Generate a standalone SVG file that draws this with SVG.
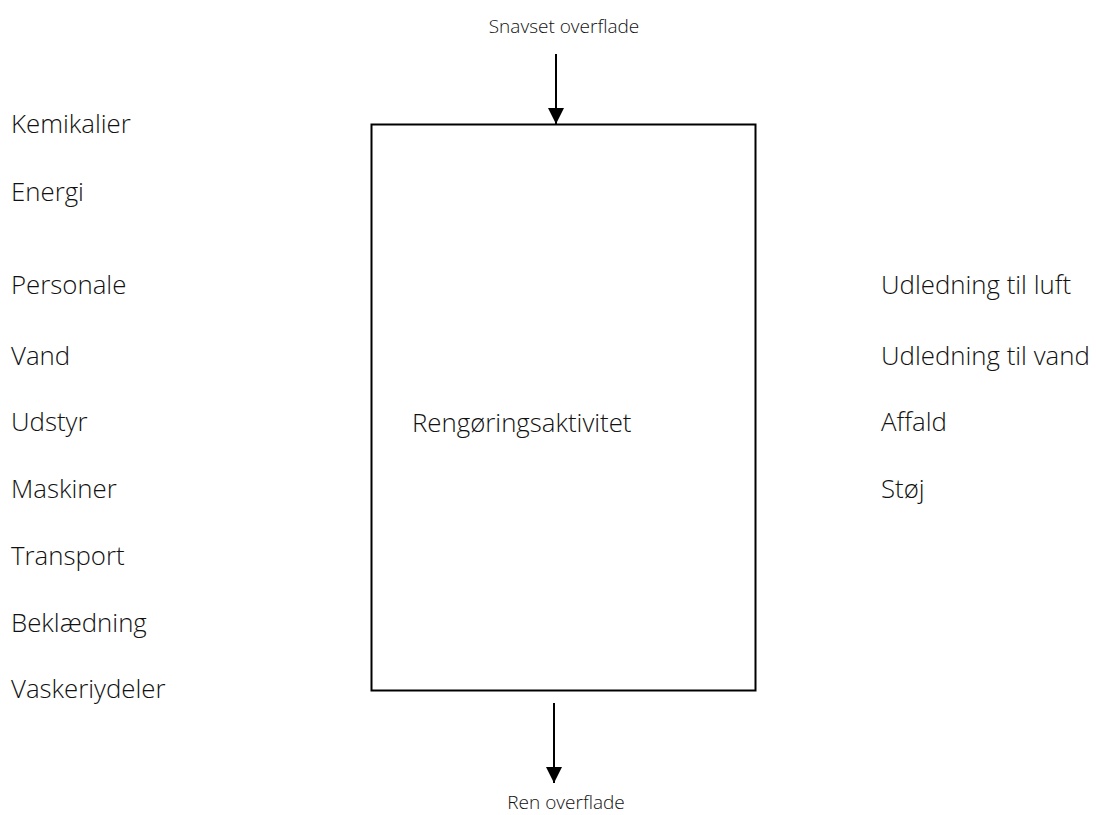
<svg xmlns="http://www.w3.org/2000/svg" width="1096" height="815" viewBox="0 0 1096 815">
<style>
text{font-family:"Open Sans","Liberation Sans",sans-serif;fill:#111;font-weight:300}
.l{font-size:25.8px}
.s{font-size:19px}
.c{stroke:#000;stroke-width:2;fill:none}
</style>
<defs>
<marker id="a" viewBox="0 0 16 16" refX="16" refY="8" markerWidth="16" markerHeight="16" markerUnits="userSpaceOnUse" orient="auto">
<path d="M0,0L16,8L0,16z" fill="#000"/>
</marker>
</defs>
<rect width="1096" height="815" fill="#fff"/>
<g id="process">
<rect x="371.5" y="124.5" width="384" height="566" fill="#fff" stroke="#000" stroke-width="2"/>
<text class="l" x="412" y="432">Rengøringsaktivitet</text>
</g>
<g id="inputs">
<text class="l" x="11" y="133">Kemikalier</text>
<text class="l" x="11" y="201">Energi</text>
<text class="l" x="11" y="294">Personale</text>
<text class="l" x="11" y="365">Vand</text>
<text class="l" x="11" y="431">Udstyr</text>
<text class="l" x="11" y="498">Maskiner</text>
<text class="l" x="11" y="565">Transport</text>
<text class="l" x="11" y="632">Beklædning</text>
<text class="l" x="11" y="698">Vaskeriydeler</text>
</g>
<g id="outputs">
<text class="l" x="881" y="294">Udledning til luft</text>
<text class="l" x="881" y="365">Udledning til vand</text>
<text class="l" x="881" y="431">Affald</text>
<text class="l" x="881" y="498">Støj</text>
</g>
<g id="top"><text class="s" x="564" y="33" text-anchor="middle">Snavset overflade</text></g>
<g id="bottom"><text class="s" x="566" y="809" text-anchor="middle">Ren overflade</text></g>
<g id="connectors">
<line class="c" x1="556" y1="54" x2="556" y2="124" marker-end="url(#a)"/>
<line class="c" x1="554" y1="703" x2="554" y2="783" marker-end="url(#a)"/>
</g>
</svg>
